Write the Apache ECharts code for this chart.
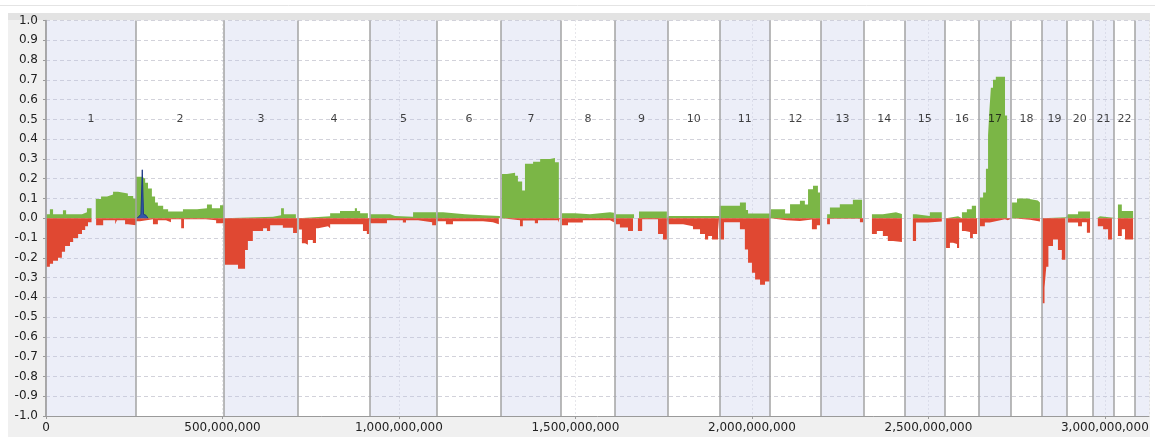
<!DOCTYPE html>
<html>
<head>
<meta charset="utf-8">
<script src="https://cdn.jsdelivr.net/npm/echarts@6/dist/echarts.min.js"></script>
<style>
  html, body { margin: 0; padding: 0; background: #ffffff; }
  #chart { width: 1155px; height: 438px; }
</style>
</head>
<body>
<div id="chart"></div>
<script>
// Chromosome names and their start/end positions along the genome (Mb)
const chromosomes = ['1','2','3','4','5','6','7','8','9','10','11','12','13','14','15','16','17','18','19','20','21','22'];
const chromBounds = [0, 255, 504, 714, 918, 1108, 1289, 1459, 1612, 1762, 1909, 2051, 2196, 2317, 2433, 2547, 2643, 2734, 2822, 2892, 2966, 3026, 3085];

// Gain frequency: [start Mb, end Mb, value]
const gainSegments = [
  [1,11,0.02],[11,20,0.045],[20,48,0.02],[48,57,0.04],[57,102,0.02],[102,116,0.03],[116,129,0.05],
  [141,156,0.097],[156,173,0.11],[173,190,0.12],[190,204,0.134],[204,232,0.125],[232,247,0.113],[247,255,0.10],
  [255,272,0.21],[272,281,0.2],[281,289,0.18],[289,300,0.15],[300,309,0.11],[309,317,0.08],[317,332,0.063],[332,346,0.046],[346,388,0.034],[388,428,0.046],[428,456,0.05],[456,470,0.07],[470,493,0.05],[493,503,0.066],
  [506,643,0.007],[643,666,0.015],[666,674,0.05],[674,708,0.02],
  [715,805,0.01],[805,833,0.025],[833,875,0.037],[875,881,0.05],[881,890,0.037],[890,912,0.025],
  [919,975,0.02],[975,989,0.012],[989,1040,0.008],[1040,1105,0.03],
  [1109,1125,0.03],[1125,1187,0.02],[1187,1238,0.015],[1238,1286,0.012],
  [1292,1306,0.224],[1306,1329,0.23],[1329,1337,0.215],[1337,1349,0.186],[1349,1357,0.14],[1357,1380,0.275],[1380,1400,0.286],[1400,1428,0.30],[1428,1442,0.305],[1442,1453,0.283],
  [1462,1499,0.025],[1499,1541,0.02],[1541,1598,0.03],[1598,1609,0.028],
  [1615,1666,0.02],[1680,1759,0.034],
  [1764,1907,0.012],
  [1909,1966,0.063],[1966,1983,0.08],[1983,1989,0.042],[1989,2051,0.024],
  [2054,2094,0.046],[2094,2108,0.024],[2108,2136,0.071],[2136,2150,0.088],[2150,2159,0.07],[2159,2173,0.147],[2173,2187,0.164],[2187,2193,0.13],
  [2213,2221,0.02],[2221,2249,0.054],[2249,2286,0.071],[2286,2312,0.093],
  [2340,2371,0.02],[2371,2408,0.03],[2408,2425,0.022],
  [2456,2465,0.02],[2465,2504,0.012],[2504,2538,0.03],
  [2550,2584,0.01],[2595,2609,0.03],[2609,2623,0.046],[2623,2635,0.063],
  [2646,2655,0.105],[2655,2663,0.13],[2663,2669,0.25],[2669,2673,0.42],[2673,2677,0.55],[2677,2683,0.66],[2683,2691,0.70],[2691,2717,0.715],[2717,2723,0.52],
  [2737,2751,0.08],[2751,2779,0.1],[2779,2810,0.09],[2810,2816,0.08],
  [2822,2890,0.005],
  [2895,2924,0.02],[2924,2958,0.034],
  [2978,2986,0.01],
  [3037,3048,0.07],[3048,3080,0.037]
];

// Loss frequency: [start Mb, end Mb, value]
const lossSegments = [
  [1,11,-0.245],[11,20,-0.23],[20,34,-0.215],[34,45,-0.2],[45,54,-0.17],[54,68,-0.14],[68,77,-0.12],[77,91,-0.10],[91,102,-0.08],[102,111,-0.06],[111,119,-0.04],[119,129,-0.02],
  [142,162,-0.035],[162,196,-0.01],[196,201,-0.03],[201,224,-0.01],[224,232,-0.03],[232,255,-0.035],
  [255,266,-0.015],[266,303,-0.005],[303,317,-0.03],[317,340,-0.01],[340,354,-0.02],[354,383,-0.005],[383,391,-0.05],[391,453,-0.005],[453,482,-0.01],[482,503,-0.025],
  [507,544,-0.235],[544,564,-0.255],[564,572,-0.16],[572,586,-0.115],[586,615,-0.065],[615,626,-0.05],[626,635,-0.065],[635,671,-0.035],[671,700,-0.048],[700,711,-0.075],
  [717,725,-0.057],[725,734,-0.126],[734,742,-0.134],[742,756,-0.11],[756,765,-0.125],[765,771,-0.05],[771,799,-0.04],[799,805,-0.05],[805,898,-0.03],[898,909,-0.065],[909,915,-0.08],
  [919,966,-0.025],[966,1011,-0.01],[1011,1020,-0.022],[1020,1054,-0.01],[1054,1094,-0.02],[1094,1105,-0.035],
  [1109,1133,-0.015],[1133,1153,-0.03],[1153,1238,-0.015],[1238,1266,-0.02],[1266,1283,-0.03],
  [1292,1343,-0.01],[1343,1351,-0.04],[1351,1385,-0.012],[1385,1394,-0.025],[1394,1451,-0.01],[1451,1456,-0.022],
  [1462,1479,-0.035],[1479,1521,-0.022],[1521,1598,-0.01],[1598,1609,-0.02],
  [1615,1626,-0.03],[1626,1649,-0.047],[1649,1663,-0.064],[1677,1689,-0.064],[1689,1734,-0.005],[1734,1748,-0.08],[1748,1759,-0.107],
  [1764,1805,-0.03],[1805,1833,-0.04],[1833,1853,-0.056],[1853,1867,-0.08],[1867,1876,-0.107],[1876,1887,-0.09],[1887,1904,-0.107],
  [1909,1921,-0.107],[1921,1966,-0.02],[1966,1980,-0.056],[1980,1989,-0.158],[1989,2000,-0.225],[2000,2009,-0.276],[2009,2023,-0.31],[2023,2037,-0.336],[2037,2051,-0.32],
  [2054,2099,-0.01],[2099,2136,-0.014],[2136,2170,-0.006],[2170,2184,-0.056],[2184,2193,-0.035],
  [2213,2221,-0.03],[2221,2306,-0.003],[2306,2315,-0.02],
  [2340,2354,-0.08],[2354,2371,-0.065],[2371,2385,-0.09],[2385,2400,-0.115],[2400,2425,-0.12],
  [2456,2465,-0.115],[2465,2499,-0.022],[2499,2538,-0.017],
  [2550,2561,-0.15],[2561,2570,-0.124],[2570,2581,-0.13],[2581,2587,-0.15],[2587,2595,-0.022],[2595,2604,-0.064],[2604,2618,-0.07],[2618,2626,-0.1],[2626,2638,-0.08],
  [2646,2660,-0.04],[2660,2674,-0.022],[2674,2694,-0.014],[2694,2717,-0.005],[2717,2725,-0.01],
  [2737,2788,-0.008],[2788,2816,-0.017],
  [2823,2829,-0.43],[2829,2834,-0.35],[2834,2840,-0.245],[2840,2853,-0.14],[2853,2867,-0.108],[2867,2878,-0.16],[2878,2888,-0.21],
  [2895,2924,-0.022],[2924,2935,-0.04],[2935,2949,-0.02],[2949,2958,-0.073],
  [2980,2995,-0.04],[2995,3009,-0.056],[3009,3020,-0.107],
  [3037,3048,-0.09],[3048,3057,-0.056],[3057,3080,-0.107]
];

// Focal amplification peak on chromosome 2 (Mb, value)
const focalPos = [258, 263.5, 269, 272.8, 276.2, 283.3, 289];
const focalVal = [0, 0.01, 0.02, 0.245, 0.02, 0.015, 0];

// Axis ranges
const xMaxMb = 3125;
const xTickStepMb = 500;

const MB = 1e6;

// Turn [start, end, value] runs into a closed step outline along the zero line
function stepOutline(segs) {
  const pts = [];
  let prevEnd = null;
  segs.forEach(([s, e, v]) => {
    if (prevEnd === null || s !== prevEnd) {
      if (prevEnd !== null) pts.push([prevEnd * MB, 0]);
      pts.push([s * MB, 0]);
    }
    pts.push([s * MB, v], [e * MB, v]);
    prevEnd = e;
  });
  pts.push([prevEnd * MB, 0]);
  return pts;
}

// Shaded bands for alternating chromosomes (plus the tail after the last one)
const bandAreas = [];
for (let i = 0; i < chromosomes.length; i += 2) {
  bandAreas.push([{ xAxis: chromBounds[i] * MB }, { xAxis: chromBounds[i + 1] * MB }]);
}
bandAreas.push([{ xAxis: chromBounds[chromBounds.length - 1] * MB }, { xAxis: xMaxMb * MB }]);

const boundaryLines = chromBounds.map(b => ({ xAxis: b * MB }));

const chromLabels = chromosomes.map((name, i) => ({
  name: name,
  value: [(chromBounds[i] + chromBounds[i + 1]) / 2 * MB, 0.5]
}));

function withCommas(v) {
  return String(Math.round(v)).replace(/\B(?=(\d{3})+(?!\d))/g, ',');
}

const chart = echarts.init(document.getElementById('chart'), null, { renderer: 'canvas' });

chart.setOption({
  animation: false,
  backgroundColor: '#ffffff',
  textStyle: { fontFamily: 'DejaVu Sans' },
  graphic: [
    { type: 'line', z: -10, silent: true, shape: { x1: 0, y1: 5.5, x2: 1155, y2: 5.5 }, style: { stroke: '#e4e4e4', lineWidth: 1 } },
    { type: 'rect', z: -10, silent: true, shape: { x: 8, y: 13, width: 1142, height: 424 }, style: { fill: '#f0f0f0' } },
    { type: 'rect', z: -9, silent: true, shape: { x: 8, y: 13, width: 1142, height: 7 }, style: { fill: '#e3e3e3' } }
  ],
  grid: {
    left: 46, right: 6, top: 20.5, bottom: 22,
    show: true, backgroundColor: '#ffffff', borderWidth: 0
  },
  xAxis: {
    type: 'value',
    min: 0,
    max: xMaxMb * MB,
    interval: xTickStepMb * MB,
    axisLine: { show: true, onZero: false, lineStyle: { color: '#9a9a9a', width: 1 } },
    axisTick: { show: true, length: 3, lineStyle: { color: '#9a9a9a' } },
    axisLabel: {
      show: true, margin: 6, color: '#222', fontSize: 12, fontFamily: 'DejaVu Sans',
      showMaxLabel: false,
      formatter: v => withCommas(v)
    },
    splitLine: { show: true, lineStyle: { color: '#cfcfd6', type: [1, 3], width: 1 } }
  },
  yAxis: {
    type: 'value',
    min: -1,
    max: 1,
    interval: 0.1,
    axisLine: { show: true, lineStyle: { color: '#a0a0a0', width: 1.5 } },
    axisTick: { show: true, length: 3, lineStyle: { color: '#9a9a9a' } },
    axisLabel: {
      margin: 8, color: '#222', fontSize: 12, fontFamily: 'DejaVu Sans',
      formatter: v => (Math.abs(v) < 1e-9 ? '0.0' : v.toFixed(1))
    },
    splitLine: { show: true, lineStyle: { color: '#d2d2da', type: [4, 3], width: 1 } }
  },
  series: [
    {
      name: 'bands',
      type: 'line',
      data: [],
      silent: true,
      z: 1,
      markArea: {
        silent: true,
        itemStyle: { color: 'rgba(192,198,232,0.3)' },
        data: bandAreas
      },
      markLine: {
        silent: true,
        symbol: ['none', 'none'],
        label: { show: false },
        lineStyle: { color: '#a3a3a3', width: 1.5, type: 'solid' },
        data: boundaryLines
      }
    },
    {
      name: 'Gain',
      type: 'line',
      data: stepOutline(gainSegments),
      showSymbol: false,
      silent: true,
      z: 3,
      lineStyle: { width: 0 },
      areaStyle: { color: '#7bb646', opacity: 1 }
    },
    {
      name: 'Loss',
      type: 'line',
      data: stepOutline(lossSegments),
      showSymbol: false,
      silent: true,
      z: 3,
      lineStyle: { width: 0 },
      areaStyle: { color: '#e04832', opacity: 1 }
    },
    {
      name: 'Focal',
      type: 'line',
      data: focalPos.map((p, i) => [p * MB, focalVal[i]]),
      showSymbol: false,
      silent: true,
      z: 4,
      lineStyle: { width: 1, color: '#1d3a86' },
      areaStyle: { color: '#3457a8', opacity: 1 }
    },
    {
      name: 'chromosome',
      type: 'scatter',
      data: chromLabels,
      symbolSize: 0,
      silent: true,
      z: 5,
      label: {
        show: true,
        position: 'inside',
        formatter: p => p.name,
        color: '#111',
        fontSize: 11,
        fontFamily: 'DejaVu Sans'
      }
    }
  ]
});
</script>
</body>
</html>
